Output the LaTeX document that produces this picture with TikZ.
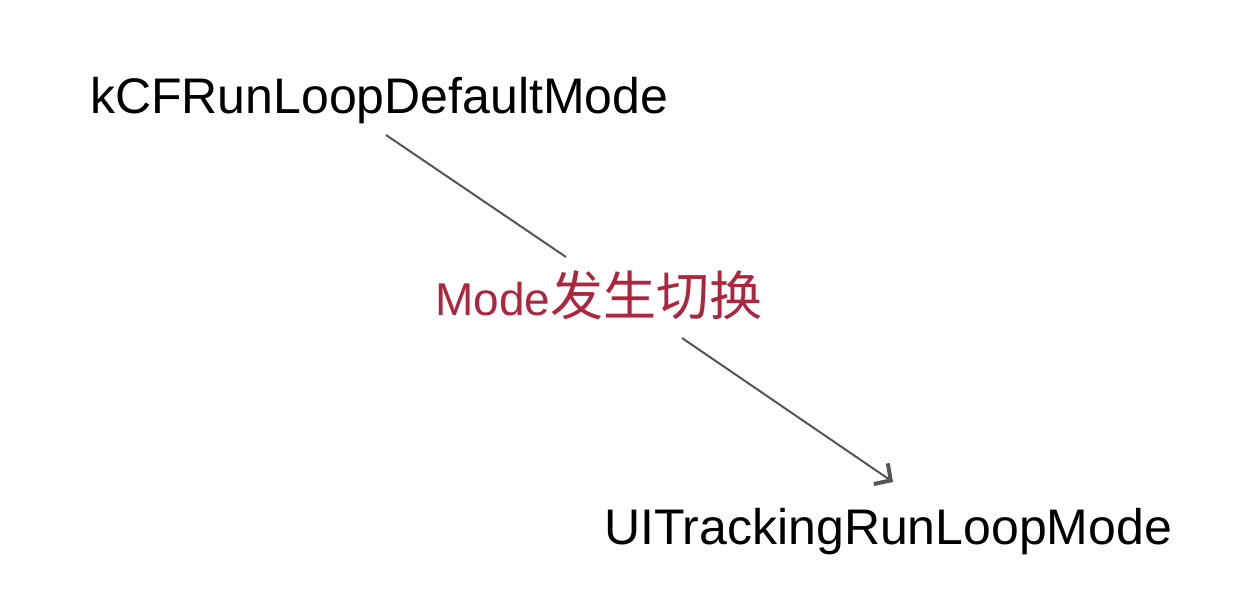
\documentclass[tikz,border=0pt]{standalone}
\usepackage{fontspec}
\setmainfont{Liberation Sans}
\newfontfamily\cjk{Noto Sans CJK SC}
\usetikzlibrary{arrows.meta}
\definecolor{modered}{RGB}{172,38,62}
\definecolor{linegray}{RGB}{85,85,85}
\tikzset{
  modetext/.style={inner sep=0pt, anchor=base west, font=\fontsize{50}{56}\selectfont},
  switchtext/.style={inner sep=0pt, anchor=base west, text=modered},
  conn/.style={draw=linegray, line width=2pt},
}
\begin{document}
\begin{tikzpicture}[x=1pt,y=-1pt]
\useasboundingbox[fill=white] (0,0) rectangle (1260,594);
\node[modetext] (def) at (90,113) {kCFRunLoopDefaultMode};
\node[modetext] (trk) at (604,544) {UITrackingRunLoopMode};
\node[switchtext] (sw) at (435,315) {\fontsize{46}{52}\selectfont Mode\cjk\fontsize{53}{58}\selectfont 发生切换};
\coordinate (s) at (386,135);
\coordinate (g1) at (566,257);
\coordinate (g2) at (682,338);
\coordinate (e) at (893,482);
\draw[conn] (s) -- (g1);
\draw[conn, -{Straight Barb[length=12pt,width=25pt,line width=4pt]}] (g2) -- (e);
\end{tikzpicture}
\end{document}
